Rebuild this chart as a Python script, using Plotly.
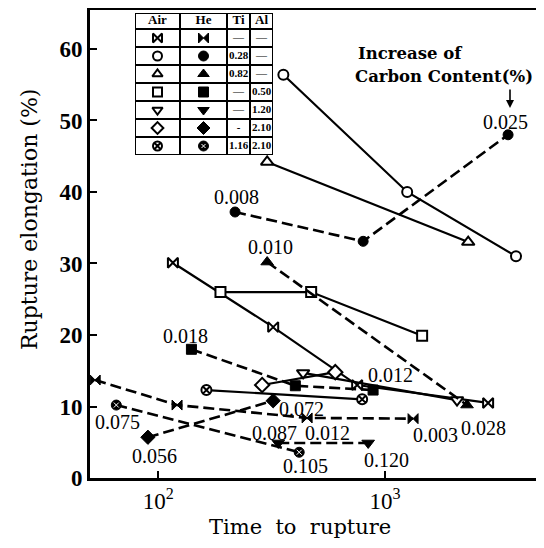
import plotly.graph_objects as go
import numpy as np

# ---------------- data ----------------
# Air (solid lines, open symbols)
air_plain_t = [116, 321, 753, 2845]
air_plain_e = [30.1, 21.1, 13.0, 10.5]
air_ti028_t = [356, 1251, 3776]
air_ti028_e = [56.4, 40.0, 31.0]
air_ti082_t = [302, 2324]
air_ti082_e = [44.2, 33.0]
air_al050_t = [188, 472, 1456]
air_al050_e = [26.0, 26.0, 19.9]
air_al120_t = [435, 2075]
air_al120_e = [14.7, 10.9]
air_al210_t = [287, 603]
air_al210_e = [13.0, 14.8]
air_tial_t = [163, 792]
air_tial_e = [12.3, 11.0]

# He (dashed lines, filled symbols)
he_plain_t = [52.7, 121, 453, 1328]
he_plain_e = [13.7, 10.2, 8.4, 8.3]
he_ti028_t = [218, 800, 3484]
he_ti028_e = [37.2, 33.1, 48.0]
he_ti082_t = [302, 2297]
he_ti082_e = [30.2, 10.2]
he_al050_t = [140, 402, 885]
he_al050_e = [18.0, 12.9, 12.3]
he_al120_t = [338, 842]
he_al120_e = [4.9, 4.9]
he_al210_t = [90, 321]
he_al210_e = [5.7, 10.8]
he_tial_t = [65.3, 418]
he_tial_e = [10.2, 3.6]

# carbon content labels: (text, series key, point index)
carbon_labels = [
    ("0.025", "he_ti028", 2), ("0.008", "he_ti028", 0),
    ("0.010", "he_ti082", 0), ("0.028", "he_ti082", 1),
    ("0.018", "he_al050", 0), ("0.012", "he_al050", 2),
    ("0.056", "he_al210", 0), ("0.072", "he_al210", 1),
    ("0.075", "he_tial", 0), ("0.105", "he_tial", 1),
    ("0.087", "he_al120", 0), ("0.120", "he_al120", 1),
    ("0.012", "he_plain", 2), ("0.003", "he_plain", 3),
]

# legend table contents
table_header = ["Air", "He", "Ti", "Al"]
table_ti = ["—", "0.28", "0.82", "—", "—", "-", "1.16"]
table_al = ["—", "—", "—", "0.50", "1.20", "2.10", "2.10"]

x_ticks = [100, 1000]
x_ticktext = ["10<sup>2</sup>", "10<sup>3</sup>"]
y_ticks = [0, 10, 20, 30, 40, 50, 60]

# ---------------- styling ----------------
series = {
    "air_plain": (air_plain_t, air_plain_e, "bowtie", "air"),
    "air_ti028": (air_ti028_t, air_ti028_e, "circle", "air"),
    "air_ti082": (air_ti082_t, air_ti082_e, "triangle-up", "air"),
    "air_al050": (air_al050_t, air_al050_e, "square", "air"),
    "air_al120": (air_al120_t, air_al120_e, "triangle-down", "air"),
    "air_al210": (air_al210_t, air_al210_e, "diamond", "air"),
    "air_tial": (air_tial_t, air_tial_e, "circle-x", "air"),
    "he_plain": (he_plain_t, he_plain_e, "bowtie", "he"),
    "he_ti028": (he_ti028_t, he_ti028_e, "circle", "he"),
    "he_ti082": (he_ti082_t, he_ti082_e, "triangle-up", "he"),
    "he_al050": (he_al050_t, he_al050_e, "square", "he"),
    "he_al120": (he_al120_t, he_al120_e, "triangle-down", "he"),
    "he_al210": (he_al210_t, he_al210_e, "diamond", "he"),
    "he_tial": (he_tial_t, he_tial_e, "circle", "he"),
}
label_shift = [(-3, 13), (1, 15), (3, 15), (16, -23), (-6, 13), (17, 15),
               (7, -19), (28, -8), (1, -17), (6, -14), (-4, 10), (18, -17),
               (20, -15), (22, -16)]

# The page body has an 8px default margin, so the figure is offset by 8px.
PAGE_OFF = 8
W, H = 544 - PAGE_OFF, 548 - 2 * PAGE_OFF
PX0, PY0, PX1, PY1 = 90, 10, 542, 478          # plot area in page pixels
L, T = PX0 - PAGE_OFF, PY0 - PAGE_OFF
R = W - (PX1 - PAGE_OFF)
B = H - (PY1 - PAGE_OFF)
PW, PH = PX1 - PX0, PY1 - PY0

def px_to_paper(px, py):
    return (px - PX0) / PW, (PY1 - py) / PH

fig = go.Figure()

for key, (t, e, sym, gas) in series.items():
    air = gas == "air"
    size = 10 if sym not in ("diamond", "triangle-up", "triangle-down") else 11
    fig.add_trace(go.Scatter(
        x=t, y=e, mode="lines+markers",
        line=dict(color="black", width=2.2 if air else 2.6,
                  dash="solid" if air else "11px,5px"),
        marker=dict(symbol=sym, size=size,
                    color="white" if air else "black",
                    line=dict(color="black", width=2 if air else 1)),
        showlegend=False, cliponaxis=True))
# small white cross on the filled (He) circle-x symbol
fig.add_trace(go.Scatter(x=he_tial_t, y=he_tial_e, mode="markers",
                         marker=dict(symbol="x-thin-open", size=5, color="white",
                                     line=dict(color="white", width=1)),
                         showlegend=False))

# carbon content annotations
for (txt, key, idx), (dx, dy) in zip(carbon_labels, label_shift):
    t, e = series[key][0], series[key][1]
    fig.add_annotation(x=np.log10(t[idx]), y=e[idx], text=txt, showarrow=False,
                       xshift=dx, yshift=dy, xanchor="center", yanchor="middle",
                       font=dict(family="Liberation Serif", size=20, color="black"))

# header text and arrow
for txt, (px, py) in [("<b>Increase of</b>", (410, 53)),
                      ("<b>Carbon Content(%)</b>", (444, 76))]:
    xp, yp = px_to_paper(px, py)
    fig.add_annotation(xref="paper", yref="paper", x=xp, y=yp, text=txt,
                       showarrow=False, xanchor="center", yanchor="middle",
                       font=dict(family="DejaVu Serif", size=16.5, color="black"))
ax1, ay1 = px_to_paper(510, 108)
fig.add_annotation(xref="paper", yref="paper", x=ax1, y=ay1, ax=0, ay=-20,
                   text="", showarrow=True, arrowhead=2, arrowsize=1,
                   arrowwidth=1.6, arrowcolor="black")

# axis titles
xp, yp = px_to_paper(30, 220)
fig.add_annotation(xref="paper", yref="paper", x=xp, y=yp,
                   xanchor="center", yanchor="middle",
                   text="Rupture elongation (%)", textangle=-90, showarrow=False,
                   font=dict(family="DejaVu Serif", size=22, color="black"))
xp, yp = px_to_paper(300, 527)
fig.add_annotation(xref="paper", yref="paper", x=xp, y=yp,
                   xanchor="center", yanchor="middle",
                   text="Time  to  rupture", showarrow=False,
                   font=dict(family="DejaVu Serif", size=21, color="black"))

# ---------------- legend table on its own invisible axes ----------------
tx0, ty0, tx1, ty1 = 135, 13, 273, 155
col_edges = [0, 45, 92, 115, 138]
row_edges = [0, 16] + [16 + 18 * i for i in range(1, 8)]
row_edges[-1] = 142
d0x, d1y = px_to_paper(tx0, ty0)
d1x, d0y = px_to_paper(tx1, ty1)
for xe in col_edges:
    fig.add_shape(type="line", xref="x2", yref="y2", x0=xe, x1=xe, y0=0, y1=142,
                  line=dict(color="black", width=2))
for ye in row_edges:
    fig.add_shape(type="line", xref="x2", yref="y2", x0=0, x1=138, y0=ye, y1=ye,
                  line=dict(color="black", width=2))
cx = [(col_edges[i] + col_edges[i + 1]) / 2 for i in range(4)]
cy = [(row_edges[i] + row_edges[i + 1]) / 2 for i in range(8)]
fig.add_trace(go.Scatter(x=cx, y=[cy[0]] * 4, mode="text", text=[f"<b>{h}</b>" for h in table_header],
                         textfont=dict(family="Liberation Serif", size=13, color="black"),
                         xaxis="x2", yaxis="y2", showlegend=False))
air_syms = [series[k][2] for k in series if k.startswith("air")]
he_syms = [series[k][2] for k in series if k.startswith("he")]
fig.add_trace(go.Scatter(x=[cx[0]] * 7, y=cy[1:], mode="markers",
                         marker=dict(symbol=air_syms, size=9, color="white",
                                     line=dict(color="black", width=2)),
                         xaxis="x2", yaxis="y2", showlegend=False))
fig.add_trace(go.Scatter(x=[cx[1]] * 7, y=cy[1:], mode="markers",
                         marker=dict(symbol=he_syms, size=10, color="black",
                                     line=dict(color="black", width=1)),
                         xaxis="x2", yaxis="y2", showlegend=False))
fig.add_trace(go.Scatter(x=[cx[1]], y=[cy[7]], mode="markers",
                         marker=dict(symbol="x-thin-open", size=4, color="white",
                                     line=dict(color="white", width=1)),
                         xaxis="x2", yaxis="y2", showlegend=False))
fig.add_trace(go.Scatter(x=[cx[2]] * 7 + [cx[3]] * 7, y=cy[1:] + cy[1:], mode="text",
                         text=[f"<b>{s}</b>" for s in table_ti + table_al],
                         textfont=dict(family="Liberation Serif", size=11, color="black"),
                         xaxis="x2", yaxis="y2", showlegend=False))

axis_common = dict(showline=True, linecolor="black", linewidth=3, mirror=True,
                   showgrid=False, zeroline=False, ticks="inside", ticklen=7,
                   tickwidth=2, tickcolor="black", automargin=False,
                   tickfont=dict(family="Liberation Serif", size=23, color="black"))
fig.update_layout(
    width=W, height=H, margin=dict(l=L, r=R, t=T, b=B, autoexpand=False),
    paper_bgcolor="white", plot_bgcolor="white", showlegend=False,
    xaxis=dict(type="log", range=[np.log10(50), 3.6916], tickvals=x_ticks,
               ticktext=x_ticktext, **axis_common),
    yaxis=dict(range=[0, 65.45], tickvals=y_ticks,
               ticktext=[f"<b>{v}</b>" for v in y_ticks], **axis_common),
    xaxis2=dict(domain=[d0x, d1x], range=[0, 138], visible=False, anchor="y2",
                fixedrange=True, automargin=False),
    yaxis2=dict(domain=[d0y, d1y], range=[142, 0], visible=False, anchor="x2",
                fixedrange=True, automargin=False),
)
fig.write_html("out.html")
